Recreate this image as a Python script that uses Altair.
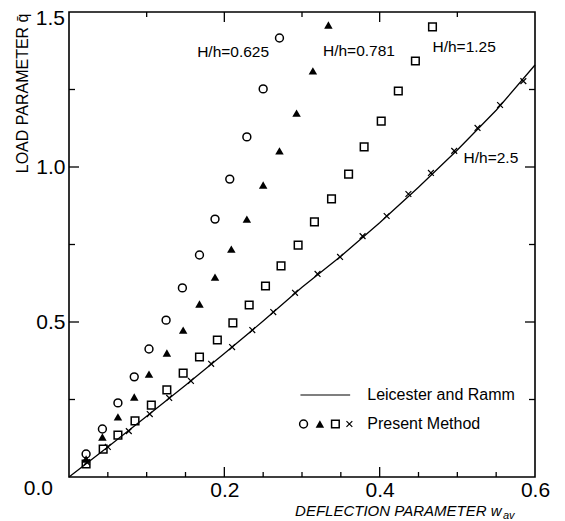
import altair as alt
import pandas as pd

FONT = "Liberation Sans"

# H/h = 0.625 (open circles)
circle_x = [0.022, 0.043, 0.063, 0.084, 0.103, 0.125, 0.146, 0.168, 0.188, 0.207, 0.229, 0.250, 0.271]
circle_y = [0.074, 0.155, 0.239, 0.323, 0.413, 0.506, 0.610, 0.716, 0.832, 0.961, 1.097, 1.252, 1.416]

# H/h = 0.781 (filled triangles)
tri_x = [0.022, 0.043, 0.063, 0.084, 0.103, 0.126, 0.147, 0.168, 0.188, 0.209, 0.229, 0.250, 0.271, 0.293, 0.314, 0.334]
tri_y = [0.058, 0.129, 0.194, 0.258, 0.332, 0.400, 0.474, 0.558, 0.645, 0.735, 0.832, 0.942, 1.052, 1.174, 1.310, 1.458]

# H/h = 1.25 (open squares)
sq_x = [0.022, 0.044, 0.063, 0.085, 0.106, 0.126, 0.147, 0.168, 0.191, 0.211, 0.232, 0.253,
        0.273, 0.295, 0.316, 0.338, 0.360, 0.380, 0.402, 0.424, 0.446, 0.468]
sq_y = [0.042, 0.090, 0.135, 0.181, 0.232, 0.281, 0.335, 0.387, 0.442, 0.497, 0.555, 0.616,
        0.681, 0.748, 0.823, 0.897, 0.977, 1.065, 1.148, 1.245, 1.342, 1.452]

# H/h = 2.5 (crosses)
cr_x = [0.023, 0.050, 0.077, 0.104, 0.129, 0.157, 0.183, 0.210, 0.236, 0.263, 0.291,
        0.320, 0.349, 0.378, 0.409, 0.437, 0.466, 0.496, 0.526, 0.555, 0.585]
cr_y = [0.048, 0.097, 0.148, 0.203, 0.255, 0.310, 0.365, 0.419, 0.474, 0.532, 0.594,
        0.655, 0.710, 0.777, 0.842, 0.913, 0.981, 1.052, 1.126, 1.200, 1.277]

# Leicester and Ramm (solid line)
line_x = [0.0, 0.05, 0.1, 0.15, 0.2, 0.25, 0.3, 0.35, 0.4, 0.45, 0.5, 0.55, 0.6]
line_y = [0.0, 0.097, 0.196, 0.296, 0.398, 0.503, 0.612, 0.712, 0.820, 0.935, 1.055, 1.183, 1.329]

# curve labels
label_text = ["H/h=0.625", "H/h=0.781", "H/h=1.25", "H/h=2.5"]
label_x = [0.165, 0.327, 0.468, 0.508]
label_y = [1.371, 1.374, 1.387, 1.029]

# legend
legend_line_x = [0.298]
legend_line_x2 = [0.362]
legend_line_y = [0.2645]
legend_text = ["Leicester and Ramm", "Present Method"]
legend_text_x = [0.384, 0.384]
legend_text_y = [0.2645, 0.171]
legend_marker_x = [0.302, 0.323, 0.343, 0.361]  # circle, triangle, square, cross
legend_marker_y = 0.171

# ticks (drawn inward on all four sides)
x_bottom_major = [0.2, 0.4]
x_bottom_minor = [0.05, 0.1, 0.15, 0.25, 0.3, 0.35, 0.45, 0.5, 0.55]
x_top_major = [0.2, 0.4]
x_top_minor = [0.1, 0.3, 0.5]
y_major = [0.5, 1.0]
y_minor = [0.25, 0.75, 1.25]
x_label_values = [0.2, 0.4, 0.6]
y_label_values = [0.5, 1.0]
corner_label_text = ["0.0", "1.5"]
corner_label_y = [0.0, 1.5]
x_title_main = "DEFLECTION PARAMETER w"
x_title_sub = "av"

MAJ, MIN_X, MIN_Y = 10, 5, 6
TICK_W = 1.3

xs = alt.Scale(domain=[0, 0.6], nice=False, zero=False)
ys = alt.Scale(domain=[0, 1.5], nice=False, zero=False)

bottom_axis = alt.Axis(
    values=x_label_values, format=".1f",
    domain=False, grid=False, ticks=False,
    labelFont=FONT, labelFontSize=21, labelColor="black", labelPadding=2,
    labelFlush=False, labelOverlap=False,
    title=x_title_main, titleFont=FONT, titleFontSize=15,
    titleFontStyle="italic", titleFontWeight="normal", titleColor="black",
    titleX=432, titleY=38, titleAlign="right", titleBaseline="alphabetic",
)
left_axis = alt.Axis(
    values=y_label_values, format=".1f",
    domain=False, grid=False, ticks=False,
    labelFont=FONT, labelFontSize=21, labelColor="black", labelPadding=4,
    labelFlush=False, labelOverlap=False,
    title="LOAD PARAMETER q̄", titleFont=FONT, titleFontSize=16,
    titleFontWeight="normal", titleColor="black", titleAngle=270,
    titleX=-42, titleY=1, titleAlign="right", titleBaseline="alphabetic",
)


def enc(chart, xaxis=None, yaxis=None):
    return chart.encode(
        x=alt.X("x:Q", scale=xs, axis=xaxis),
        y=alt.Y("y:Q", scale=ys, axis=yaxis),
    )


def xticks(values, at, length):
    return alt.Chart(pd.DataFrame({"v": values})).mark_rule(
        color="black", strokeWidth=TICK_W, y2Offset=length).encode(
        x=alt.X("v:Q", scale=xs, axis=None),
        y=alt.Y(datum=at, scale=ys, axis=None),
        y2=alt.Y2(datum=at))


def yticks(values, at, length):
    return alt.Chart(pd.DataFrame({"v": values})).mark_rule(
        color="black", strokeWidth=TICK_W, x2Offset=length).encode(
        y=alt.Y("v:Q", scale=ys, axis=None),
        x=alt.X(datum=at, scale=xs, axis=None),
        x2=alt.X2(datum=at))


tick_layers = [
    xticks(x_bottom_major, 0, -MAJ), xticks(x_bottom_minor, 0, -MIN_X),
    xticks(x_top_major, 1.5, MAJ), xticks(x_top_minor, 1.5, MIN_X),
    yticks(y_major, 0, MAJ), yticks(y_minor, 0, MIN_Y),
    yticks(y_major, 0.6, -MAJ), yticks(y_minor, 0.6, -MIN_Y),
]

line_df = pd.DataFrame({"x": line_x, "y": line_y})
line = enc(alt.Chart(line_df).mark_line(color="black", strokeWidth=1.3),
           xaxis=bottom_axis, yaxis=left_axis)

circle_style = dict(shape="circle", filled=False, size=62, strokeWidth=1.5, color="black", opacity=1)
tri_style = dict(shape="triangle-up", filled=True, size=72, color="black", opacity=1)
sq_style = dict(shape="square", filled=False, size=58, strokeWidth=1.5, color="black", opacity=1)
cr_style = dict(shape="M-1,-1L1,1M-1,1L1,-1", filled=False, size=34, strokeWidth=1.2,
                color="black", opacity=1)

circles = enc(alt.Chart(pd.DataFrame({"x": circle_x + [legend_marker_x[0]],
                                      "y": circle_y + [legend_marker_y]})).mark_point(**circle_style))
tris = enc(alt.Chart(pd.DataFrame({"x": tri_x + [legend_marker_x[1]],
                                   "y": tri_y + [legend_marker_y]})).mark_point(**tri_style))
squares = enc(alt.Chart(pd.DataFrame({"x": sq_x + [legend_marker_x[2]],
                                      "y": sq_y + [legend_marker_y]})).mark_point(**sq_style))
crosses = enc(alt.Chart(pd.DataFrame({"x": cr_x + [legend_marker_x[3]],
                                      "y": cr_y + [legend_marker_y]})).mark_point(**cr_style))

labels = enc(alt.Chart(pd.DataFrame({"x": label_x, "y": label_y, "t": label_text})).mark_text(
    align="left", baseline="middle", font=FONT, fontSize=15.5, color="black")).encode(text="t:N")

legend_rule = alt.Chart(pd.DataFrame({"x": legend_line_x, "x2": legend_line_x2, "y": legend_line_y})).mark_rule(
    color="black", strokeWidth=1.2).encode(
    x=alt.X("x:Q", scale=xs, axis=None), x2="x2:Q", y=alt.Y("y:Q", scale=ys, axis=None))

legend_texts = enc(alt.Chart(pd.DataFrame({"x": legend_text_x, "y": legend_text_y, "t": legend_text})).mark_text(
    align="left", baseline="middle", font=FONT, fontSize=16, color="black")).encode(text="t:N")

zero_label = enc(alt.Chart(pd.DataFrame({"x": [0.0], "y": [corner_label_y[0]], "t": [corner_label_text[0]]})).mark_text(
    align="right", baseline="middle", font=FONT, fontSize=21, color="black", dx=-16, dy=12)).encode(text="t:N")
top_label = enc(alt.Chart(pd.DataFrame({"x": [0.0], "y": [corner_label_y[1]], "t": [corner_label_text[1]]})).mark_text(
    align="right", baseline="middle", font=FONT, fontSize=21, color="black", dx=-4, dy=7)).encode(text="t:N")

sub_label = enc(alt.Chart(pd.DataFrame({"x": [0.6], "y": [0.0], "t": [x_title_sub]})).mark_text(
    align="left", baseline="alphabetic", font=FONT, fontSize=11, fontStyle="italic", color="black",
    dx=-32, dy=42)).encode(text="t:N")

chart = alt.layer(
    line, *tick_layers, circles, tris, squares, crosses, labels, legend_rule, legend_texts,
    zero_label, top_label, sub_label
).resolve_axis(x="independent", y="independent").properties(
    width=466, height=465,
    autosize=alt.AutoSizeParams(type="none"),
    padding={"left": 61, "top": 4, "right": 22, "bottom": 44},
    background="white",
).configure_view(stroke="black", strokeWidth=1.6)

chart.save("out.html", embed_options={"renderer": "svg", "actions": False})
